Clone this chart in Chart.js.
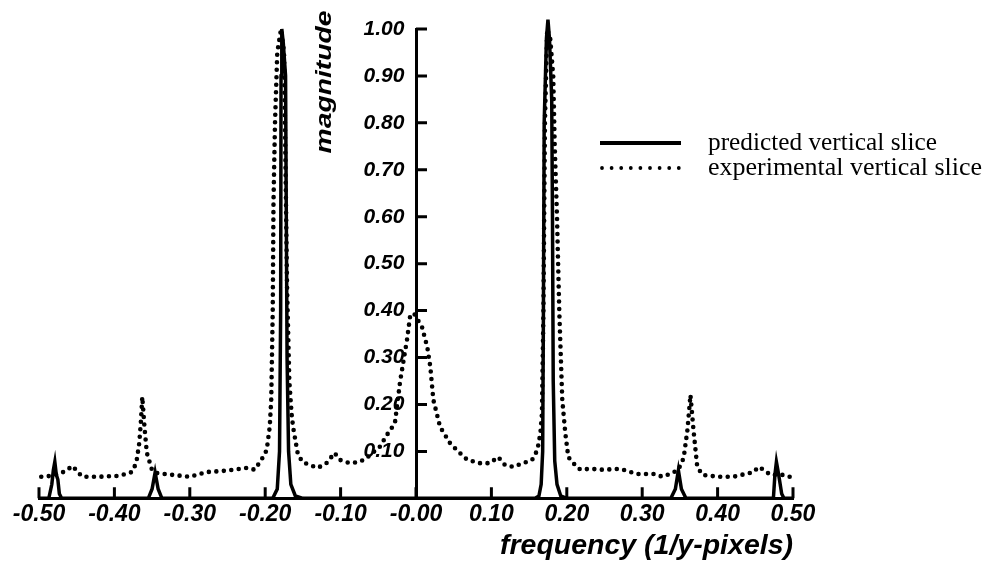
<!DOCTYPE html>
<html>
<head>
<meta charset="utf-8">
<script src="https://cdn.jsdelivr.net/npm/chart.js@4.4.1/dist/chart.umd.min.js"></script>
<style>
  html, body { margin: 0; padding: 0; background: #fff; }
</style>
</head>
<body>
<canvas id="slices" width="996" height="563"></canvas>
<script>
// predicted vertical slice (solid)
const predFreq = [-0.500, -0.487, -0.483, -0.481, -0.479, -0.477, -0.475, -0.473, -0.470,
  -0.355, -0.350, -0.346, -0.342, -0.337,
  -0.190, -0.184, -0.181, -0.1795, -0.179, -0.178, -0.176, -0.173, -0.172, -0.171, -0.169, -0.166, -0.160, -0.150,
  0.158, 0.163, 0.166, 0.168, 0.169, 0.170, 0.173, 0.175, 0.177, 0.180, 0.181, 0.182, 0.184, 0.187, 0.192, 0.200,
  0.338, 0.344, 0.348, 0.352, 0.358,
  0.474, 0.476, 0.478, 0.480, 0.482, 0.485, 0.488, 0.500];
const predMag = [0, 0, 0.03, 0.06, 0.078, 0.05, 0.04, 0.01, 0,
  0, 0.02, 0.055, 0.02, 0,
  0, 0.02, 0.1, 0.4, 0.9, 1.0, 0.97, 0.9, 0.6, 0.3, 0.1, 0.03, 0.005, 0,
  0, 0.005, 0.03, 0.1, 0.4, 0.8, 0.98, 1.02, 0.98, 0.85, 0.6, 0.25, 0.08, 0.03, 0.005, 0,
  0, 0.02, 0.06, 0.02, 0,
  0, 0.05, 0.078, 0.06, 0.04, 0.01, 0, 0];

// experimental vertical slice (dotted)
const expFreq = [-0.497, -0.483, -0.470, -0.455, -0.449, -0.442, -0.420, -0.393, -0.377,
  -0.371, -0.367, -0.365, -0.363, -0.360, -0.357, -0.350, -0.344, -0.323, -0.300, -0.278,
  -0.251, -0.224, -0.214, -0.205, -0.198, -0.194, -0.192, -0.190, -0.189, -0.187, -0.184,
  -0.179, -0.175, -0.173, -0.171, -0.168, -0.165, -0.163, -0.160, -0.157, -0.151, -0.141,
  -0.130, -0.118, -0.108, -0.101, -0.088, -0.074, -0.064, -0.048, -0.037, -0.028, -0.021,
  -0.012, -0.008, -0.003, 0.008, 0.015, 0.019, 0.023, 0.032, 0.045, 0.054, 0.068, 0.085,
  0.098, 0.109, 0.118, 0.129, 0.142, 0.154, 0.161, 0.165, 0.167, 0.169, 0.171, 0.174,
  0.178, 0.182, 0.184, 0.187, 0.190, 0.194, 0.198, 0.202, 0.211, 0.218, 0.231, 0.248,
  0.271, 0.293, 0.315, 0.327, 0.340, 0.348, 0.355, 0.360, 0.364, 0.368, 0.373, 0.380,
  0.401, 0.421, 0.448, 0.454, 0.461, 0.470, 0.487, 0.500];
const expMag = [0.046, 0.048, 0.054, 0.069, 0.056, 0.046, 0.046, 0.048, 0.056,
  0.075, 0.118, 0.160, 0.216, 0.150, 0.097, 0.060, 0.054, 0.050, 0.046, 0.056,
  0.059, 0.065, 0.061, 0.082, 0.103, 0.152, 0.210, 0.400, 0.630, 0.800, 0.950,
  1.000, 0.950, 0.700, 0.450, 0.250, 0.180, 0.152, 0.124, 0.097, 0.078, 0.071,
  0.065, 0.076, 0.097, 0.082, 0.075, 0.078, 0.088, 0.110, 0.139, 0.160, 0.250,
  0.337, 0.386, 0.395, 0.365, 0.322, 0.280, 0.210, 0.152, 0.118, 0.103, 0.082, 0.075,
  0.075, 0.088, 0.071, 0.067, 0.075, 0.082, 0.103, 0.139, 0.180, 0.400, 0.800, 1.000,
  0.980, 0.900, 0.750, 0.600, 0.400, 0.210, 0.139, 0.088, 0.071, 0.061, 0.063, 0.061,
  0.063, 0.052, 0.052, 0.046, 0.054, 0.061, 0.086, 0.146, 0.220, 0.146, 0.067, 0.050,
  0.046, 0.046, 0.056, 0.067, 0.061, 0.050, 0.050, 0.044];

const xTickLabels = ["-0.50", "-0.40", "-0.30", "-0.20", "-0.10", "-0.00",
  "0.10", "0.20", "0.30", "0.40", "0.50"];
const yTickLabels = ["", "0.10", "0.20", "0.30", "0.40", "0.50",
  "0.60", "0.70", "0.80", "0.90", "1.00"];

const seriesNames = ["predicted vertical slice", "experimental vertical slice"];

const toPoints = (xs, ys) => xs.map((f, i) => ({ x: f, y: ys[i] }));

const boldItalic = (size) => ({ family: "'Liberation Sans', Arial, sans-serif", size: size, weight: "bold", style: "italic" });

// inward tick marks, rotated y title and the legend
const extras = {
  id: "extras",
  afterDraw(chart) {
    const { ctx, scales: { x, y } } = chart;
    const x0 = x.getPixelForValue(0);
    const yb = y.getPixelForValue(0);

    ctx.save();
    ctx.strokeStyle = "#000";
    ctx.lineWidth = 3;
    ctx.lineCap = "butt";
    ctx.beginPath();
    x.ticks.forEach(t => {
      const px = x.getPixelForValue(t.value);
      ctx.moveTo(px, yb);
      ctx.lineTo(px, yb - 11);
    });
    y.ticks.forEach(t => {
      if (t.value === 0) return;
      const py = y.getPixelForValue(t.value);
      ctx.moveTo(x0, py);
      ctx.lineTo(x0 + 11, py);
    });
    ctx.stroke();

    // y title
    ctx.fillStyle = "#000";
    ctx.font = "italic bold 22px 'Liberation Sans', Arial, sans-serif";
    ctx.textAlign = "center";
    ctx.textBaseline = "middle";
    ctx.translate(325, 82);
    ctx.rotate(-Math.PI / 2);
    const w = ctx.measureText("magnitude").width;
    ctx.scale(143 / w, 1);
    ctx.fillText("magnitude", 0, 0);
    ctx.restore();

    // legend
    ctx.save();
    ctx.strokeStyle = "#000";
    ctx.lineWidth = 4;
    ctx.beginPath();
    ctx.moveTo(600, 143);
    ctx.lineTo(681, 143);
    ctx.stroke();
    ctx.lineCap = "round";
    ctx.lineWidth = 3.8;
    ctx.setLineDash([0, 9.6]);
    ctx.beginPath();
    ctx.moveTo(602, 168);
    ctx.lineTo(680, 168);
    ctx.stroke();
    ctx.setLineDash([]);

    ctx.fillStyle = "#000";
    ctx.font = "25px 'Liberation Serif', 'Times New Roman', serif";
    ctx.textAlign = "left";
    ctx.textBaseline = "middle";
    [[seriesNames[0], 143, 229], [seriesNames[1], 168, 274]].forEach(([txt, ty, tw]) => {
      ctx.save();
      ctx.translate(708, ty);
      ctx.scale(tw / ctx.measureText(txt).width, 1);
      ctx.fillText(txt, 0, 0);
      ctx.restore();
    });
    ctx.restore();
  }
};

new Chart(document.getElementById("slices"), {
  type: "scatter",
  data: {
    datasets: [
      {
        label: seriesNames[0],
        data: toPoints(predFreq, predMag),
        showLine: true,
        borderColor: "#000",
        borderWidth: 3.5,
        pointRadius: 0,
        clip: false
      },
      {
        label: seriesNames[1],
        data: toPoints(expFreq, expMag),
        showLine: true,
        borderColor: "#000",
        borderWidth: 4.6,
        borderDash: [0, 7.5],
        borderCapStyle: "round",
        pointRadius: 0,
        clip: false
      }
    ]
  },
  options: {
    responsive: false,
    animation: false,
    layout: { padding: { top: 29, left: 39, right: 203, bottom: 0 } },
    plugins: {
      legend: { display: false },
      tooltip: { enabled: false }
    },
    scales: {
      x: {
        type: "linear",
        position: "bottom",
        min: -0.5,
        max: 0.5,
        grid: { display: false, drawTicks: false },
        border: { display: true, color: "#000", width: 3 },
        ticks: {
          stepSize: 0.1,
          color: "#000",
          padding: 3.5,
          maxRotation: 0,
          autoSkip: false,
          font: Object.assign(boldItalic(23), { lineHeight: 1.1 }),
          callback: (v, i) => xTickLabels[i]
        },
        title: {
          display: true,
          text: "frequency (1/y-pixels)",
          align: "end",
          color: "#000",
          padding: { top: 0, bottom: 1 },
          font: Object.assign(boldItalic(28.5), { lineHeight: 1.1 })
        }
      },
      y: {
        type: "linear",
        position: { x: 0 },
        min: 0,
        max: 1,
        grid: { display: false, drawTicks: false },
        border: { display: true, color: "#000", width: 3 },
        ticks: {
          stepSize: 0.1,
          color: "#000",
          padding: 12,
          autoSkip: false,
          font: boldItalic(21),
          callback: (v, i) => yTickLabels[i] ? yTickLabels[i] + "  " : ""
        }
      }
    }
  },
  plugins: [extras]
});
</script>
</body>
</html>
